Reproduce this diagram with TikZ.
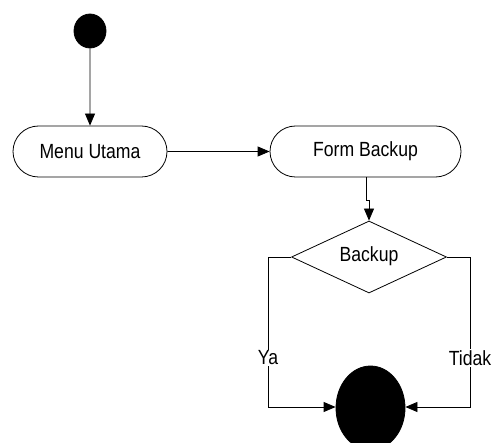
\documentclass[tikz,border=0pt]{standalone}
\usepackage{fontspec}
\setmainfont{Liberation Sans}[FakeStretch=0.86]
\usetikzlibrary{arrows.meta,shapes.geometric,shapes.misc}
\begin{document}
\begin{tikzpicture}[x=1pt,y=-1pt,
  line width=0.8pt,
  every node/.style={font=\fontsize{20.5}{24}\selectfont},
  act/.style={draw,rounded rectangle,minimum height=51pt,inner sep=0pt},
  dot/.style={draw,fill=black,ellipse,inner sep=0pt},
  dec/.style={draw,diamond,minimum width=155pt,minimum height=72pt,inner sep=0pt},
  flow/.style={-{Triangle[length=12pt,width=10pt]}},
  lbl/.style={fill=white,inner sep=1pt}]
\useasboundingbox (0,0) rectangle (494,443);
\clip (0,0) rectangle (494,443);
\node[dot,minimum width=32pt,minimum height=34pt] (start) at (90,31) {};
\node[act,minimum width=154pt] (menu) at (90,151.5) {Menu Utama};
\node[act,minimum width=191pt] (form) at (365.5,151.5) {Form Backup};
\node[dec] (dec) at (369,257) {};
\node (dectext) at (369,256) {Backup};
\node[dot,minimum width=69pt,minimum height=84pt] (end) at (370.5,408) {};
\coordinate (j1) at (366,200);
\coordinate (j2) at (369,200);
\coordinate (l1) at (268,257);
\coordinate (l2) at (268,407);
\coordinate (r1) at (470,257);
\coordinate (r2) at (470,407);
\draw[flow] (start) -- (menu);
\draw[flow] (menu) -- (form);
\draw[flow] (form.south -| j1) -- (j1) -- (j2) -- (dec.north);
\draw[flow] (dec.west) -- (l1) -- (l2) -- (end.west |- l2);
\draw[flow] (dec.east) -- (r1) -- (r2) -- (end.east |- r2);
\node[lbl] (ya) at (268,358) {Ya};
\node[lbl] (tidak) at (470,358) {Tidak};
\end{tikzpicture}
\end{document}
